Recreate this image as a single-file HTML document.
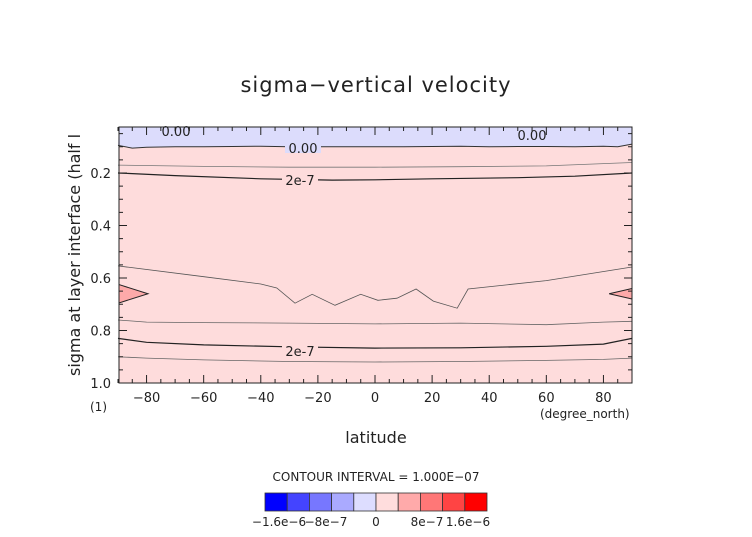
<!DOCTYPE html>
<html><head><meta charset="utf-8"><style>
body{margin:0;background:#fff;}
svg text{font-family:"DejaVu Sans","Liberation Sans",sans-serif;fill:#222;}
</style></head><body>
<svg id="chart" width="752" height="532" xmlns="http://www.w3.org/2000/svg">
<defs><clipPath id="pc"><rect x="119" y="127" width="513" height="256"/></clipPath></defs>
<text x="376" y="92" font-size="21" text-anchor="middle" letter-spacing="1">sigma−vertical velocity</text>
<g id="plot"></g>
<text x="376" y="443" font-size="16" text-anchor="middle">latitude</text>
<text x="540" y="418" font-size="12">(degree_north)</text>
<text transform="translate(80,255) rotate(-90)" font-size="16" text-anchor="middle">sigma at layer interface (half l</text>
<text x="90" y="411" font-size="12">(1)</text>
<text x="376" y="481" font-size="12" text-anchor="middle">CONTOUR INTERVAL = 1.000E−07</text>
<g id="cbar"></g>
</svg>
<script>
const latTicks=[-80,-60,-40,-20,0,20,40,60,80];
const sigTicks=[0.2,0.4,0.6,0.8,1.0];
const zeroLat=[-90,-85,-80,-70,-60,-50,-40,-30,-20,-10,0,10,20,30,40,50,60,70,80,85,90];
const zeroSig=[0.095,0.105,0.102,0.100,0.100,0.099,0.098,0.100,0.100,0.100,0.100,0.100,0.099,0.098,0.100,0.099,0.099,0.100,0.098,0.100,0.090];
const thin1Lat=[-90,-60,-30,0,30,60,90];
const thin1Sig=[0.17,0.175,0.178,0.178,0.176,0.173,0.16];
const c2Lat=[-90,-70,-40,-15,0,20,50,70,90];
const c2Sig=[0.2,0.21,0.222,0.227,0.226,0.222,0.218,0.212,0.2];
const midLat=[-90,-60,-40,-34.4,-28,-22,-14,-5,1,7.7,14.4,20.4,28.8,32.6,60,90];
const midSig=[0.554,0.595,0.623,0.638,0.696,0.662,0.704,0.662,0.685,0.677,0.642,0.688,0.715,0.642,0.61,0.558];
const low1Lat=[-90,-80,-60,-30,0,30,60,80,90];
const low1Sig=[0.76,0.768,0.77,0.772,0.775,0.772,0.778,0.768,0.765];
const low2Lat=[-90,-80,-60,-30,0,30,60,80,90];
const low2Sig=[0.83,0.845,0.855,0.862,0.867,0.866,0.86,0.852,0.83];
const low3Lat=[-90,-80,-60,-30,0,30,60,80,90];
const low3Sig=[0.9,0.905,0.912,0.918,0.92,0.918,0.914,0.91,0.905];
const cbColors=["#0000ff","#4444ff","#7777ff","#aaaaff","#ddddff","#ffdddd","#ffaaaa","#ff7777","#ff4444","#ff0000"];
const cbLabels=["−1.6e−6","−8e−7","0","8e−7","1.6e−6"];

const X0=119,X1=632,Y0=127,Y1=383;
const sx=l=>375+l*(X1-375)/90;
const sy=s=>173+(s-0.2)*(Y1-173)/0.8;
const NS="http://www.w3.org/2000/svg";
const plot=document.getElementById('plot');
function mk(tag,attrs,parent){const e=document.createElementNS(NS,tag);for(const k in attrs)e.setAttribute(k,attrs[k]);(parent||plot).appendChild(e);return e;}
let bg=mk('rect',{x:X0,y:Y0,width:X1-X0,height:Y1-Y0,fill:'#fedcdc'});


const pts=(la,sg)=>la.map((l,i)=>sx(l).toFixed(1)+','+sy(sg[i]).toFixed(1)).join(' ');
let blue=mk('polygon',{points:X0+','+Y0+' '+pts(zeroLat,zeroSig)+' '+X1+','+Y0,fill:'#dcdcfc'});


let rl=mk('polygon',{points:`${X0},${sy(0.625)} ${sx(-79.5)},${sy(0.66)} ${X0},${sy(0.695)}`,fill:'#fda9a9',stroke:'#222','stroke-width':1});


let rr=mk('polygon',{points:`${X1},${sy(0.64)} ${sx(82)},${sy(0.66)} ${X1},${sy(0.68)}`,fill:'#fda9a9',stroke:'#222','stroke-width':1});


const lines=[[zeroLat,zeroSig,'#333',1,'zero-contour'],[thin1Lat,thin1Sig,'#777',0.8,'contour-1e-7-upper'],[c2Lat,c2Sig,'#222',1.2,'contour-2e-7-upper'],[midLat,midSig,'#555',0.8,'contour-mid'],[low1Lat,low1Sig,'#666',0.8,'contour-low-1'],[low2Lat,low2Sig,'#222',1.2,'contour-2e-7-lower'],[low3Lat,low3Sig,'#666',0.8,'contour-low-3']];
lines.forEach(L=>{let p=mk('polyline',{points:pts(L[0],L[1]),fill:'none',stroke:L[2],'stroke-width':L[3]});

});
[[303,148,'0.00','#dcdcfc'],[300,180,'2e-7','#fedcdc'],[300,351,'2e-7','#fedcdc'],[176,131,'0.00','#dcdcfc'],[532,135,'0.00','#dcdcfc']].forEach(t=>{
let r=mk('rect',{x:t[0]-18,y:t[1]-5,width:36,height:10,fill:t[3],'clip-path':'url(#pc)'});


let tx=mk('text',{x:t[0],y:t[1]+5,'font-size':13,'text-anchor':'middle'});tx.textContent=t[2];

});
let fr=mk('rect',{x:X0,y:Y0,width:X1-X0,height:Y1-Y0,fill:'none',stroke:'#222','stroke-width':1});


for(let l=-90;l<=90;l+=5){const len=(l%20===0)?8:4;
mk('line',{x1:sx(l),x2:sx(l),y1:Y1,y2:Y1-len,stroke:'#222'});mk('line',{x1:sx(l),x2:sx(l),y1:Y0,y2:Y0+len,stroke:'#222'});}
for(let s=0.05;s<=1.0001;s+=0.05){const len=(Math.round(s*100)%20===0)?8:4;
mk('line',{x1:X0,x2:X0+len,y1:sy(s),y2:sy(s),stroke:'#222'});mk('line',{x1:X1,x2:X1-len,y1:sy(s),y2:sy(s),stroke:'#222'});}
latTicks.forEach(l=>{let t=mk('text',{x:sx(l),y:402,'font-size':13,'text-anchor':'middle'});t.textContent=(l<0?'−':'')+Math.abs(l);

});
sigTicks.forEach(s=>{let t=mk('text',{x:111,y:sy(s)+5,'font-size':13,'text-anchor':'end'});t.textContent=s.toFixed(1);

});
const cb=document.getElementById('cbar');
cbColors.forEach((c,i)=>{let r=mk('rect',{x:265+i*22.2,y:493,width:22.2,height:18,fill:c,stroke:'#333','stroke-width':0.8},cb);

});
const cbx=[279,326,376,427,468];
cbLabels.forEach((s,i)=>{let t=mk('text',{x:cbx[i],y:526,'font-size':12,'text-anchor':'middle'},cb);t.textContent=s;

});
</script>
</body></html>
